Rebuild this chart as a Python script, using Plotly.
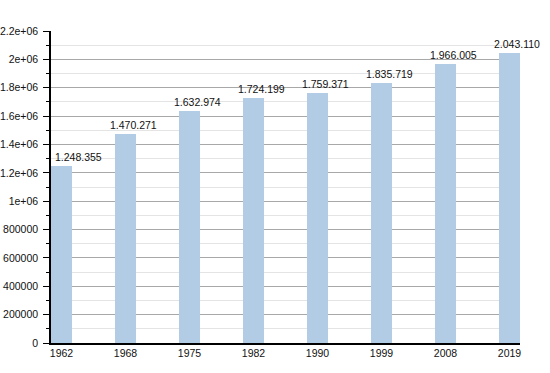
import plotly.graph_objects as go

years = ["1962", "1968", "1975", "1982", "1990", "1999", "2008", "2019"]
population = [1248355, 1470271, 1632974, 1724199, 1759371, 1835719, 1966005, 2043110]
value_labels = ["1.248.355", "1.470.271", "1.632.974", "1.724.199", "1.759.371", "1.835.719", "1.966.005", "2.043.110"]
label_shift = [17, 7.5, 7.5, 7.5, 7.5, 7.5, 7.5, 7.5]
y_tick_vals = [0, 200000, 400000, 600000, 800000, 1000000, 1200000, 1400000, 1600000, 1800000, 2000000, 2200000]
y_tick_text = ["0", "200000", "400000", "600000", "800000", "1e+06", "1.2e+06", "1.4e+06", "1.6e+06", "1.8e+06", "2e+06", "2.2e+06"]

FONT = "Liberation Sans"

fig = go.Figure(go.Bar(
    x=years, y=population,
    marker=dict(color="#b3cce6", line=dict(width=0)),
    width=0.33, hoverinfo="x+y",
))

for i, (val, lab, sh) in enumerate(zip(population, value_labels, label_shift)):
    fig.add_annotation(
        x=i, y=val, xref="x", yref="y", text=lab, showarrow=False,
        xanchor="center", yanchor="bottom", xshift=sh, yshift=1,
        font=dict(family=FONT, size=10.5, color="#111"),
    )

fig.update_layout(
    width=550, height=373,
    margin=dict(l=51, r=30, t=31, b=30, autoexpand=False),
    paper_bgcolor="white", plot_bgcolor="white",
    showlegend=False,
    font=dict(family=FONT, size=10.5, color="#111"),
    bargap=0,
)
fig.update_xaxes(
    type="category", range=[-0.164, 7.164], automargin=False,
    showline=True, linecolor="black", linewidth=1.5,
    ticks="", showgrid=False, tickfont=dict(size=10.5),
)
fig.update_yaxes(
    range=[0, 2200000], tickvals=y_tick_vals, ticktext=y_tick_text, automargin=False,
    showline=True, linecolor="black", linewidth=1.5,
    ticks="outside", ticklen=6, tickcolor="black", tickwidth=1,
    showgrid=True, gridcolor="#a8a8a8", gridwidth=1,
    zeroline=False, tickfont=dict(size=10.5), ticklabelstandoff=3,
    minor=dict(dtick=100000, showgrid=True, gridcolor="#e4e4e4", ticks="outside", ticklen=3, tickcolor="black"),
)

fig.write_html("out.html", config={"displayModeBar": False},
               post_script="document.body.style.margin='0';")
